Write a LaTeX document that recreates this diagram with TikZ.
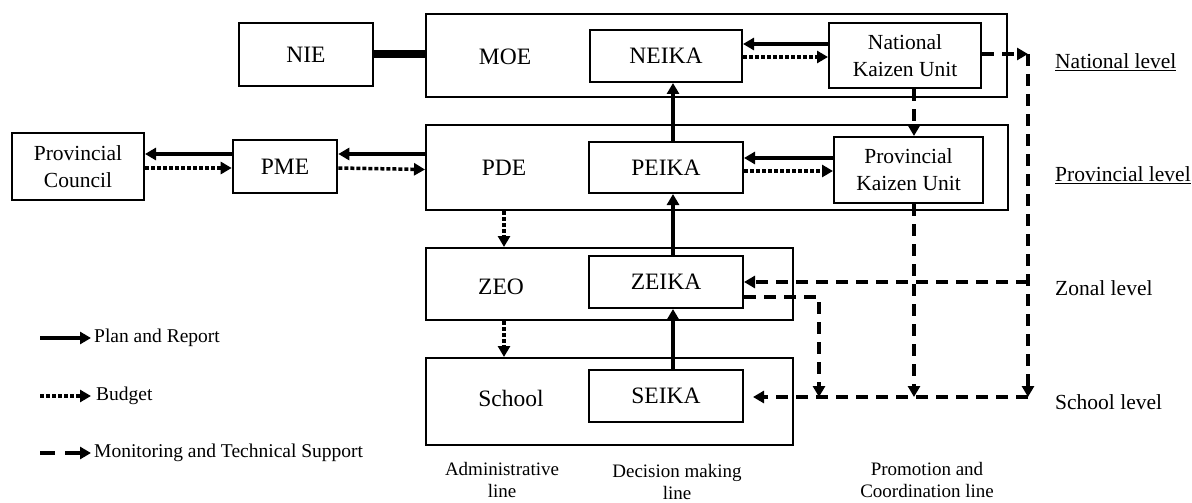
\documentclass[tikz,border=0pt]{standalone}
\usepackage{fontspec}
\setmainfont{Liberation Serif}
\usetikzlibrary{arrows.meta,calc}
\begin{document}
\begin{tikzpicture}[x=1pt,y=-1pt,
  box/.style={draw,line width=2pt,inner sep=0pt,align=center,font=\fontsize{23.5}{28}\selectfont},
  twoline/.style={font=\fontsize{21.5}{27}\selectfont},
  frame/.style={draw,line width=2pt,inner sep=0pt},
  title/.style={inner sep=0pt,font=\fontsize{23.5}{28}\selectfont},
  tip/.style={-{Triangle[length=11pt,width=12pt]}},
  plan/.style={line width=3.5pt,tip},
  budget/.style={line width=3.5pt,dash pattern=on 4pt off 2pt,tip},
  monitor/.style={line width=3.5pt,dash pattern=on 12pt off 8pt},
  lvl/.style={anchor=west,inner sep=0pt,font=\fontsize{21.5}{26}\selectfont},
  leg/.style={anchor=west,inner sep=0pt,font=\fontsize{19.5}{23}\selectfont},
  colname/.style={align=center,inner sep=0pt,font=\fontsize{19}{22}\selectfont}
]
\useasboundingbox (0,0) rectangle (1192,503);

% level frames
\node[frame,minimum width=581pt,minimum height=83pt] (moeframe) at (716.5,55.5) {};
\node[frame,minimum width=582pt,minimum height=85pt] (pdeframe) at (717,167.5) {};
\node[frame,minimum width=367pt,minimum height=72pt] (zeoframe) at (609.5,284) {};
\node[frame,minimum width=367pt,minimum height=87pt] (schoolframe) at (609.5,401.5) {};

\node[title] (moe) at (505,57) {MOE};
\node[title] (pde) at (504,168) {PDE};
\node[title] (zeo) at (501,287) {ZEO};
\node[title] (school) at (511,398) {School};

% boxes
\node[box,minimum width=134pt,minimum height=63pt] (nie) at (306,54.5) {NIE};
\node[box,minimum width=152pt,minimum height=52pt] (neika) at (666,56) {NEIKA};
\node[box,twoline,minimum width=152pt,minimum height=65pt] (nku) at (905,55.5) {National\\Kaizen Unit};
\node[box,twoline,minimum width=132pt,minimum height=67pt] (pc) at (78,166.5) {Provincial\\Council};
\node[box,line width=2.6pt,minimum width=104pt,minimum height=53pt] (pme) at (285,166.5) {PME};
\node[box,minimum width=154pt,minimum height=51pt] (peika) at (666,167.5) {PEIKA};
\node[box,twoline,minimum width=149pt,minimum height=66pt] (pku) at (908.5,170) {Provincial\\Kaizen Unit};
\node[box,minimum width=154pt,minimum height=52pt] (zeika) at (666,282) {ZEIKA};
\node[box,minimum width=154pt,minimum height=52pt] (seika) at (666,396) {SEIKA};

% column references
\coordinate (dm) at (673,0);
\coordinate (adm) at (504,0);
\coordinate (pb) at (914,397);
\coordinate (nr) at (1028,54);
\coordinate (zr) at (1028,282);
\coordinate (nb) at (1028,397);
\coordinate (zb) at (819,397);

% NIE link
\draw[line width=8pt] (nie.east) -- (nie.east -| moeframe.west);

% plan and report
\draw[plan] ([yshift=11.5pt]nku.west) -- ([yshift=11.5pt]nku.west -| neika.east);
\draw[plan] ([yshift=12pt]pku.west) -- ([yshift=12pt]pku.west -| peika.east);
\draw[plan] ([yshift=12.5pt]pme.west) -- ([yshift=12.5pt]pme.west -| pc.east);
\draw[plan] ([yshift=12.5pt]pme.east -| pdeframe.west) -- ([yshift=12.5pt]pme.east);
\draw[plan] (peika.north -| dm) -- (neika.south -| dm);
\draw[plan] (zeika.north -| dm) -- (peika.south -| dm);
\draw[plan] (seika.north -| dm) -- (zeika.south -| dm);

% budget
\draw[budget] ([yshift=-1pt]neika.east) -- ([yshift=-1pt]neika.east -| nku.west);
\draw[budget] ([yshift=-3.5pt]peika.east) -- ([yshift=-3.5pt]peika.east -| pku.west);
\draw[budget] ([yshift=-1.5pt]pc.east) -- ([yshift=-1.5pt]pc.east -| pme.west);
\draw[budget] ([yshift=-1.5pt]pme.east) -- ([yshift=-3pt]pme.east -| pdeframe.west);
\draw[budget] (pdeframe.south -| adm) -- (zeoframe.north -| adm);
\draw[budget] (zeoframe.south -| adm) -- (schoolframe.north -| adm);

% monitoring and technical support
\draw[monitor,tip] ([yshift=1.5pt]nku.east) -- (nr);
\draw[monitor,tip] (nr) -- (nb);
\draw[monitor,tip] (zr) -- (zeika.east);
\draw[monitor,tip] ([yshift=-15pt]zeika.east) -| (zb);
\draw[monitor,tip] (nku.south -| pb) -- (pku.north -| pb);
\draw[monitor,tip] (pku.south -| pb) -- (pb);
\draw[monitor,tip] (nb) -- ([xshift=9pt]seika.east |- nb);

% level names
\node[lvl] (lnat) at (1055,62) {\underline{National level}};
\node[lvl] (lprov) at (1055,175) {\underline{Provincial level}};
\node[lvl] (lzon) at (1055,288) {Zonal level};
\node[lvl] (lsch) at (1055,402) {School level};

% column names
\node[colname] (cadm) at (502,480) {Administrative\\line};
\node[colname] (cdec) at (677,482) {Decision making\\line};
\node[colname] (cpro) at (927,480) {Promotion and\\Coordination line};

% legend
\coordinate (la1) at (40,338);
\coordinate (lb1) at (91,338);
\coordinate (la2) at (40,396);
\coordinate (lb2) at (91,396);
\coordinate (la3) at (40,453);
\coordinate (lb3) at (91,453);
\draw[plan] (la1) -- (lb1);
\draw[budget] (la2) -- (lb2);
\draw[line width=3.5pt,dash pattern=on 15pt off 10pt,tip] (la3) -- (lb3);
\node[leg] (tplan) at (94,338) {Plan and Report};
\node[leg] (tbud) at (96,396) {Budget};
\node[leg] (tmon) at (94,453) {Monitoring and Technical Support};
\end{tikzpicture}
\end{document}
